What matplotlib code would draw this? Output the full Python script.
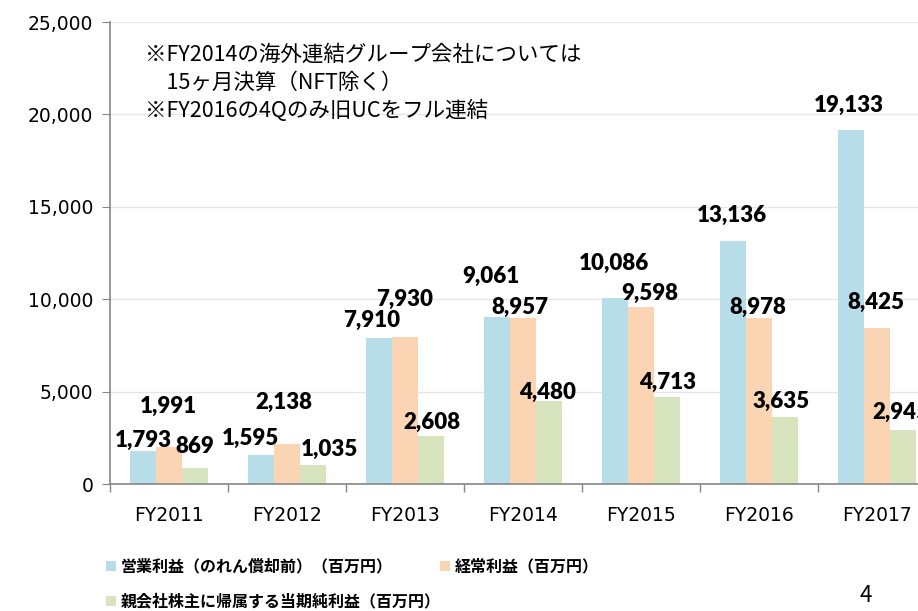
import numpy as np
import matplotlib.pyplot as plt
from matplotlib.patches import Patch
from matplotlib.ticker import FuncFormatter, MultipleLocator

plt.rcParams['font.family'] = ['Noto Sans CJK JP', 'DejaVu Sans']

years = ['FY2011', 'FY2012', 'FY2013', 'FY2014', 'FY2015', 'FY2016', 'FY2017']
op_profit = [1793, 1595, 7910, 9061, 10086, 13136, 19133]
ord_profit = [1991, 2138, 7930, 8957, 9598, 8978, 8425]
net_profit = [869, 1035, 2608, 4480, 4713, 3635, 2945]
series_names = ['営業利益（のれん償却前）（百万円）', '経常利益（百万円）',
                '親会社株主に帰属する当期純利益（百万円）']
colors = ['#B7DDE8', '#FBD4B4', '#D7E4BD']

# ラベル位置の微調整 (px, バー上端からのずれ)
label_dx = [[0, -11, -7, -6, -1, -1, -2],
            [-1, -3, 0, -3, 9, -1, -1],
            [0, 16, 1, -1, 1, -4, -2]]
label_dy = [[-10, -16, -17, -40, -34, -26, -25],
            [-41, -42, -38, -11, -13, -11, -26],
            [-21, -15, -13, -9, -14, -15, -17]]

fig = plt.figure(figsize=(9.18, 6.11), dpi=100)
ax = fig.add_axes([110 / 918, 1 - 484 / 611, 826 / 918, 462 / 611])

x = np.arange(len(years))
w = 0.22
all_series = [op_profit, ord_profit, net_profit]
handles = []
for k, vals in enumerate(all_series):
    xs = x + (k - 1) * w
    ax.bar(xs, vals, width=w, color=colors[k], zorder=2)
    handles.append(Patch(facecolor=colors[k], label=series_names[k]))
    for i, v in enumerate(vals):
        ax.annotate(f'{v:,}', xy=(xs[i], v),
                    xytext=(label_dx[k][i] * 0.72, -label_dy[k][i] * 0.72),
                    textcoords='offset points', ha='center', va='center',
                    fontsize=16, fontweight='heavy', family=['Lato', 'DejaVu Sans'],
                    annotation_clip=False)

ax.set_xlim(-0.5, len(years) - 0.5)
ax.set_ylim(0, 25000)
ax.yaxis.set_major_locator(MultipleLocator(5000))
ax.yaxis.set_major_formatter(FuncFormatter(lambda v, p: f'{int(v):,}'))
ax.grid(axis='y', color='#E6E6E6', linewidth=1, zorder=0)

ax.set_xticks(x)
ax.set_xticklabels(years, family='DejaVu Sans')
ax.set_xticks(np.arange(len(years)) - 0.5, minor=True)
ax.tick_params(axis='x', which='major', length=0, pad=16, labelsize=13.5)
ax.tick_params(axis='x', which='minor', length=6, color='#868686', width=1)
ax.tick_params(axis='y', length=6, color='#868686', labelsize=13.5, pad=6)
for t in ax.get_yticklabels():
    t.set_family('DejaVu Sans')

for s in ['top', 'right']:
    ax.spines[s].set_visible(False)
for s in ['left', 'bottom']:
    ax.spines[s].set_color('#868686')
    ax.spines[s].set_linewidth(1.2)

ax.text((145 - 110) / 826, 1 - 22 / 462,
        '※FY2014の海外連結グループ会社については\n\u300015ヶ月決算（NFT除く）\n※FY2016の4Qのみ旧UCをフル連結',
        transform=ax.transAxes, fontsize=15.5, va='top', ha='left', linespacing=1.35)

leg_kw = dict(loc='upper left', frameon=False, handlelength=0.6, handleheight=0.6,
              handletextpad=0.3, labelspacing=1.2,
              prop={'size': 11.5, 'weight': 'bold', 'family': 'Noto Sans CJK JP'})
fig.legend(handles=[handles[0], handles[2]], bbox_to_anchor=(92 / 918, 1 - 544 / 611), **leg_kw)
fig.legend(handles=[handles[1]], bbox_to_anchor=(426 / 918, 1 - 544 / 611), **leg_kw)

fig.text(866 / 918, 1 - 596 / 611, '4', fontsize=16, ha='center', va='center')

fig.savefig('out.png', dpi=100)
